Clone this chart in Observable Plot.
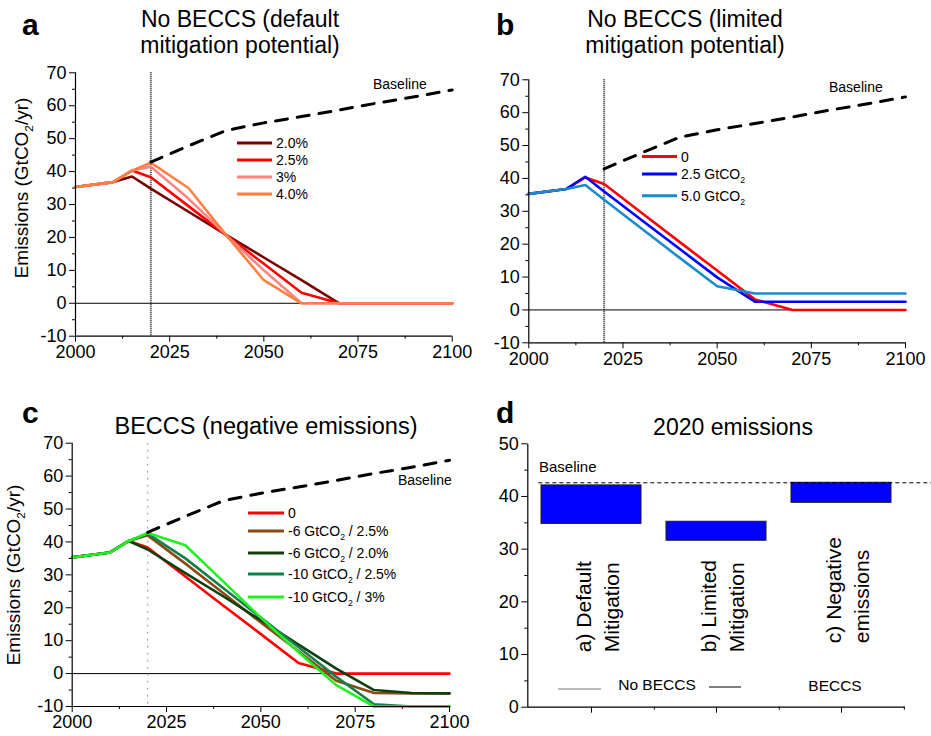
<!DOCTYPE html>
<html>
<head>
<meta charset="utf-8">
<script src="https://cdn.jsdelivr.net/npm/d3@7"></script>
<script src="https://cdn.jsdelivr.net/npm/@observablehq/plot@0.6"></script>
<style>
html, body { margin: 0; padding: 0; background: #fff; }
#wrap { position: relative; width: 931px; height: 736px; overflow: hidden; }
</style>
</head>
<body>
<div id="wrap"></div>
<script>
// ---------------- data ----------------
const years = [2000, 2010, 2015, 2020, 2030, 2040, 2050, 2060, 2070, 2080, 2090, 2100];
const baselineYears = [2020, 2030, 2040, 2050, 2060, 2070, 2080, 2090, 2100];
const baselineValues = [42.9, 47.8, 52.5, 54.8, 56.7, 58.7, 60.8, 62.7, 64.8];

// panel a: No BECCS (default mitigation potential)
const seriesA = ["2.0%", "2.5%", "3%", "4.0%"];
const a20 = [35.3, 36.8, 38.5, 34.8, 27.8, 20.8, 13.9, 7.0, 0, 0, 0, 0];
const a25 = [35.3, 36.8, 40.3, 38.3, 29.5, 20.7, 12.0, 3.2, 0, 0, 0, 0];
const a30 = [35.3, 36.8, 40.3, 41.5, 31.8, 20.7, 10.0, 0, 0, 0, 0, 0];
const a40 = [35.3, 36.8, 40.3, 42.7, 35.0, 20.7, 7.0, 0, 0, 0, 0, 0];

// panel b: No BECCS (limited mitigation potential)
const seriesB = ["0", "2.5 GtCO2", "5.0 GtCO2"];
const b0  = [35.3, 36.8, 40.3, 38.3, 29.5, 20.7, 12.0, 3.2, 0, 0, 0, 0];
const b25 = [35.3, 36.8, 40.5, 36.0, 27.3, 18.6, 9.9, 2.5, 2.5, 2.5, 2.5, 2.5];
const b50 = [35.3, 36.8, 38.0, 33.5, 24.7, 15.9, 7.2, 5.0, 5.0, 5.0, 5.0, 5.0];

// panel c: BECCS (negative emissions)
const seriesC = ["0", "-6 GtCO2 / 2.5%", "-6 GtCO2 / 2.0%", "-10 GtCO2 / 2.5%", "-10 GtCO2 / 3%"];
const c0     = [35.3, 36.8, 40.3, 38.3, 29.5, 20.7, 12.0, 3.2, 0, 0, 0, 0];
const c6_25  = [35.3, 36.8, 40.3, 42.0, 33.4, 24.5, 15.5, 6.8, -2.2, -5.9, -6, -6];
const c6_20  = [35.3, 36.8, 40.3, 37.7, 30.5, 23.5, 16.2, 8.8, 1.5, -5.0, -5.9, -6];
const c10_25 = [35.3, 36.8, 40.3, 42.5, 35.0, 26.0, 17.0, 8.0, -1.0, -9.3, -10, -10];
const c10_30 = [35.3, 36.8, 40.3, 42.7, 39.0, 28.0, 17.0, 6.5, -3.5, -10, -10, -10];

// panel d: 2020 emissions
const barCats = ["a) Default\nMitigation", "b) Limited\nMitigation", "c) Negative\nemissions"];
const barLow  = [34.8, 31.6, 38.8];
const barHigh = [42.1, 35.2, 42.6];
const baseline2020 = 42.6;

// ticks
const xMajor = [2000, 2025, 2050, 2075, 2100];
const xMinor = [2012.5, 2037.5, 2062.5, 2087.5];
const yMajor = [-10, 0, 10, 20, 30, 40, 50, 60, 70];
const yMinor = [-5, 5, 15, 25, 35, 45, 55, 65];
const dMajor = [0, 10, 20, 30, 40, 50];
const dMinor = [5, 15, 25, 35, 45];
const markerYear = 2020;

// styles
const colorsA = ["#7a0000", "#ff0000", "#ff8585", "#ff8040"];
const colorsB = ["#ff0000", "#0000ff", "#1a8ccc"];
const colorsC = ["#ff0000", "#8b4a14", "#0f3f0f", "#11804a", "#22f022"];
const FONT = '"Liberation Sans", Arial, Helvetica, sans-serif';

// ---------------- build ----------------
const wrap = document.getElementById("wrap");
const xDomain = [xMajor[0], xMajor[xMajor.length - 1]];
const yDomain = [yMajor[0], yMajor[yMajor.length - 1]];

function rows(names, arrays) {
  return names.flatMap((n, i) => years.map((yr, j) => ({year: yr, value: arrays[i][j], series: n})));
}
const baselineRows = baselineYears.map((yr, i) => ({year: yr, value: baselineValues[i]}));

function place(svg, left, top) {
  svg.style.position = "absolute";
  svg.style.left = left + "px";
  svg.style.top = top + "px";
  wrap.appendChild(svg);
}

function linePanel({left, top, width, height, m, data, names, colors, marker}) {
  const svg = Plot.plot({
    width, height,
    marginLeft: m[0], marginRight: m[1], marginTop: m[2], marginBottom: m[3],
    style: {fontFamily: FONT, fontSize: "18px", overflow: "visible", background: "transparent", color: "black"},
    x: {domain: xDomain},
    y: {domain: yDomain},
    color: {domain: names, range: colors},
    marks: [
      Plot.ruleY([0], {stroke: "black", strokeWidth: 1}),
      Plot.ruleX([markerYear], marker),
      Plot.line(data, {x: "year", y: "value", stroke: "series", strokeWidth: 2.6}),
      Plot.line(baselineRows, {x: "year", y: "value", stroke: "black", strokeWidth: 3, strokeDasharray: "12,10"}),
      Plot.ruleX([xDomain[0]], {stroke: "black", strokeWidth: 1.2}),
      Plot.ruleY([yDomain[0]], {stroke: "black", strokeWidth: 1.2}),
      Plot.axisY({ticks: yMajor, tickSize: 6, tickPadding: 3, fontSize: 18, label: null, tickFormat: d => String(d)}),
      Plot.axisY({ticks: yMinor, tickSize: 3, label: null, tickFormat: () => ""}),
      Plot.axisX({ticks: xMajor, tickSize: 6, tickPadding: 3, fontSize: 18, label: null, tickFormat: d => String(d)}),
      Plot.axisX({ticks: xMinor, tickSize: 3, label: null, tickFormat: () => ""})
    ]
  });
  place(svg, left, top);
}

const darkMarker = {stroke: "#333", strokeWidth: 2, strokeDasharray: "1,1"};
const greyMarker = {stroke: "#aaa", strokeWidth: 1.2, strokeDasharray: "2,5"};

linePanel({left: 0, top: 0, width: 465, height: 360, m: [75, 13.3, 72.3, 24.3],
  data: rows(seriesA, [a20, a25, a30, a40]), names: seriesA, colors: colorsA, marker: darkMarker});
linePanel({left: 465, top: 0, width: 466, height: 360, m: [63.3, 26, 79.3, 17.7],
  data: rows(seriesB, [b0, b25, b50]), names: seriesB, colors: colorsB, marker: darkMarker});
linePanel({left: 0, top: 360, width: 465, height: 376, m: [71.7, 16, 82.7, 30],
  data: rows(seriesC, [c0, c6_25, c6_20, c10_25, c10_30]), names: seriesC, colors: colorsC, marker: greyMarker});

// panel d
{
  const W = 466, H = 376, m = [62.3, 26.7, 83.3, 29.3];
  const pw = W - m[0] - m[1], ph = H - m[2] - m[3];
  const pIn = 0.2, pOut = 0.1;
  const step = pw / (barCats.length - pIn + 2 * pOut);
  const barRows = barCats.map((c, i) => ({cat: c, low: barLow[i], high: barHigh[i]}));
  const svg = Plot.plot({
    width: W, height: H,
    marginLeft: m[0], marginRight: m[1], marginTop: m[2], marginBottom: m[3],
    style: {fontFamily: FONT, fontSize: "18px", overflow: "visible", background: "transparent", color: "black"},
    x: {domain: barCats, paddingInner: pIn, paddingOuter: pOut},
    y: {domain: [dMajor[0], dMajor[dMajor.length - 1]]},
    marks: [
      Plot.barY(barRows, {x: "cat", y1: "low", y2: "high", fill: "#0000ff", stroke: "#1a1a1a", strokeWidth: 1}),
      Plot.ruleY([baseline2020], {stroke: "black", strokeWidth: 1, strokeDasharray: "4,3", insetLeft: 11, insetRight: -27}),
      Plot.text(barRows.filter((d, i) => i < 2), {x: "cat", text: "cat", rotate: -90, textAnchor: "start",
        lineAnchor: "middle", lineHeight: 1.33, frameAnchor: "bottom", dy: -55, dx: 5, fontSize: 21}),
      Plot.text(barRows.filter((d, i) => i === 2), {x: "cat", text: "cat", rotate: -90, textAnchor: "start",
        lineAnchor: "middle", lineHeight: 1.33, frameAnchor: "bottom", dy: -64, dx: 5, fontSize: 21}),
      Plot.frame({stroke: "black", strokeWidth: 1.2, strokeDasharray: `0,${pw + ph},${pw + ph}`}),
      Plot.axisY({ticks: dMajor, tickSize: 6, tickPadding: 3, fontSize: 18, label: null, tickFormat: d => String(d)}),
      Plot.axisY({ticks: dMinor, tickSize: 3, label: null, tickFormat: () => ""}),
      Plot.axisX({tickSize: 6, label: null, tickFormat: () => ""}),
      Plot.axisX({tickSize: 3, label: null, tickFormat: () => "", dx: step / 2})
    ]
  });
  place(svg, 465, 360);
}

// ---------------- annotations overlay ----------------
const ov = d3.create("svg").attr("width", 931).attr("height", 736)
  .style("position", "absolute").style("left", "0px").style("top", "0px")
  .style("font-family", FONT).style("pointer-events", "none").style("overflow", "visible");

function label(x, y, str, {size = 14, anchor = "start", weight = "normal", rotate = 0, fill = "black"} = {}) {
  const t = ov.append("text")
    .attr("transform", `translate(${x},${y})` + (rotate ? ` rotate(${rotate})` : ""))
    .attr("font-size", size).attr("text-anchor", anchor).attr("font-weight", weight).attr("fill", fill);
  const segs = String(str).split(/(\{[^}]*\})/);
  let shifted = false;
  segs.forEach(s => {
    if (!s) return;
    if (s.startsWith("{")) {
      t.append("tspan").attr("font-size", size * 0.62).attr("dy", size * 0.28).text(s.slice(1, -1));
      shifted = true;
    } else {
      const ts = t.append("tspan").text(s);
      if (shifted) { ts.attr("dy", -size * 0.28); shifted = false; }
    }
  });
}
function hline(x1, x2, y, color, w) {
  ov.append("line").attr("x1", x1).attr("x2", x2).attr("y1", y).attr("y2", y)
    .attr("stroke", color).attr("stroke-width", w);
}
function legend(names, colors, ys, x1, x2, tx) {
  names.forEach((n, i) => {
    hline(x1, x2, ys[i], colors[i], 3);
    label(tx, ys[i] + 5, n.replace("CO2", "CO{2}"), {size: 14});
  });
}
const yLabel = "Emissions (GtCO{2}/yr)";

// panel a
label(22, 35, "a", {size: 30, weight: "bold"});
label(240, 26.5, "No BECCS (default", {size: 23, anchor: "middle"});
label(240, 53, "mitigation potential)", {size: 23, anchor: "middle"});
label(28, 188, yLabel, {size: 19, anchor: "middle", rotate: -90});
legend(seriesA, colorsA, [143, 160, 177, 194], 237, 272, 276);
label(373, 89, "Baseline", {size: 14});

// panel b
label(496, 35, "b", {size: 30, weight: "bold"});
label(685, 26.5, "No BECCS (limited", {size: 23, anchor: "middle"});
label(685, 53, "mitigation potential)", {size: 23, anchor: "middle"});
legend(seriesB, colorsB, [156.5, 174, 195.7], 642, 677, 681);
label(829, 92, "Baseline", {size: 14});

// panel c
label(22, 423, "c", {size: 30, weight: "bold"});
label(266, 434, "BECCS (negative emissions)", {size: 23.5, anchor: "middle"});
label(20, 575, yLabel, {size: 19, anchor: "middle", rotate: -90});
legend(seriesC, colorsC, [513, 531, 553, 574, 597], 248, 284, 288);
label(398, 485, "Baseline", {size: 14});

// panel d
label(496, 423, "d", {size: 30, weight: "bold"});
label(733, 435, "2020 emissions", {size: 23, anchor: "middle"});
label(539, 472, "Baseline", {size: 15});
label(657, 690, "No BECCS", {size: 15.5, anchor: "middle"});
hline(558, 601, 689, "#777", 1);
hline(709, 741, 687, "#000", 1);
label(835, 691, "BECCS", {size: 15.5, anchor: "middle"});

wrap.appendChild(ov.node());
</script>
</body>
</html>
